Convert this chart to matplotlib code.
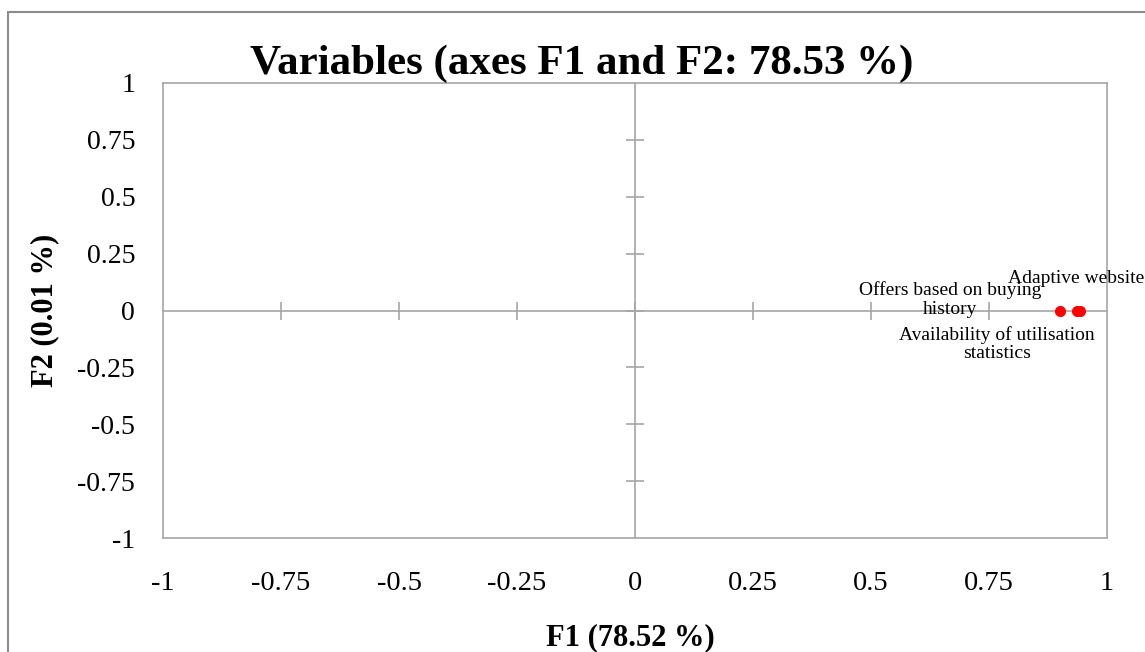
import matplotlib
matplotlib.use("Agg")
import matplotlib.pyplot as plt
from matplotlib.patches import Rectangle

plt.rcParams['font.family'] = ['Liberation Serif', 'DejaVu Serif']

# correlations of the variables with F1 / F2
variables = ['Offers based on buying\nhistory', 'Availability of utilisation\nstatistics', 'Adaptive website']
f1 = [0.900, 0.936, 0.943]
f2 = [0.0, 0.0, 0.0]
label_pos = [(0.667, 0.048, 'center'), (0.767, -0.149, 'center'), (0.790, 0.14, 'left')]
ticks = [-1, -0.75, -0.5, -0.25, 0, 0.25, 0.5, 0.75, 1]
tick_text = ['-1', '-0.75', '-0.5', '-0.25', '0', '0.25', '0.5', '0.75', '1']

grey = '#a6a6a6'
fig = plt.figure(figsize=(11.45, 6.52), dpi=100)
pos = [163 / 1145, 1 - 538 / 652, 944 / 1145, 455 / 652]

# chart area frame
fig.patches.append(Rectangle((8 / 1145, -0.5), 2, 1.5 - 12 / 652, transform=fig.transFigure,
                             fill=False, edgecolor='#8c8c8c', linewidth=1.5))

ax = fig.add_axes(pos)
ax.set_xlim(-1, 1)
ax.set_ylim(-1, 1)
for s in ax.spines.values():
    s.set_color(grey)
    s.set_linewidth(1.2)
ax.set_xticks(ticks)
ax.set_xticklabels(tick_text)
ax.set_yticks(ticks)
ax.set_yticklabels(tick_text)
ax.tick_params(axis='x', length=0, pad=24, labelsize=20.5)
ax.tick_params(axis='y', length=0, pad=20, labelsize=20)

# zero axes with crossing ticks
ax0 = fig.add_axes(pos)
ax0.set_xlim(-1, 1)
ax0.set_ylim(-1, 1)
ax0.patch.set_visible(False)
for side in ['top', 'right']:
    ax0.spines[side].set_visible(False)
for side in ['left', 'bottom']:
    ax0.spines[side].set_position(('data', 0))
    ax0.spines[side].set_color(grey)
    ax0.spines[side].set_linewidth(1.2)
ax0.set_xticks([t for t in ticks if abs(t) < 1])
ax0.set_yticks([t for t in ticks if abs(t) < 1])
ax0.tick_params(direction='inout', length=13, width=1.2, color=grey,
                labelbottom=False, labelleft=False)

ax0.plot(f1, f2, 'o', color='red', markersize=7, clip_on=False, zorder=5)
for name, (lx, ly, ha) in zip(variables, label_pos):
    ax0.text(lx, ly, name, ha=ha, va='center', fontsize=14, linespacing=1.1,
             clip_on=False)

fig.text(582 / 1145, 1 - 64 / 652, 'Variables (axes F1 and F2: 78.53 %)',
         ha='center', va='center', fontsize=31, fontweight='bold')
fig.text(630 / 1145, 1 - 638 / 652, 'F1 (78.52 %)', ha='center', va='center',
         fontsize=22, fontweight='bold')
fig.text(45 / 1145, 1 - 310 / 652, 'F2 (0.01 %)', ha='center', va='center',
         rotation=90, fontsize=22, fontweight='bold')

fig.savefig('out.png', dpi=100)
